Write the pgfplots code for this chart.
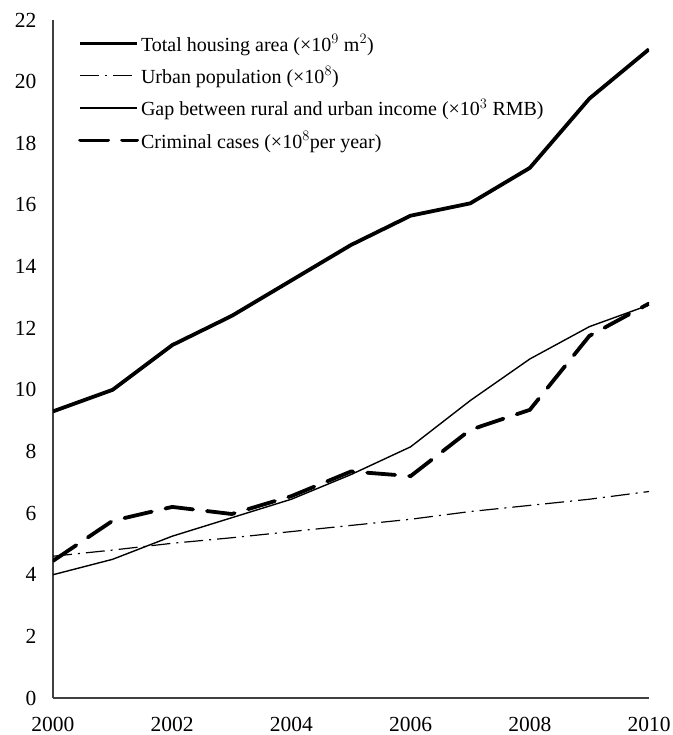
\documentclass[border=0pt]{standalone}
\usepackage{pgfplots}
\pgfplotsset{compat=1.18}
\usepackage{fontspec}
\setmainfont{Liberation Serif}
\begin{document}
\begin{tikzpicture}[x=1pt,y=1pt]
\begin{axis}[
  scale only axis,
  width=596pt, height=678pt,
  xmin=2000, xmax=2010, ymin=0, ymax=22,
  xtick={2000,2002,...,2010},
  ytick={0,2,...,22},
  xticklabel style={/pgf/number format/1000 sep={}},
  /pgf/number format/assume math mode=true,
  tick label style={font=\fontsize{21.5}{23}\selectfont},
  axis x line*=bottom, axis y line*=left,
  axis line style={line width=1.2pt, black!75},
  major tick length=0pt,
  xticklabel style={yshift=-16pt},
  yticklabel style={xshift=-13pt},
  legend style={draw=none, fill=none, at={(0.042,0.982)}, anchor=north west,
    font=\fontsize{20}{22}\selectfont, row sep=10pt, inner sep=0pt},
  legend cell align=left,
  legend image code/.code={\draw[#1] (0pt,0pt) -- (57pt,0pt);},
]
\addplot[black, line width=3.8pt] coordinates {
(2000,9.3) (2001,10.0) (2002,11.45) (2003,12.4) (2004,13.55) (2005,14.7) (2006,15.65) (2007,16.05) (2008,17.2) (2009,19.45) (2010,21.05)};
\addlegendentry{Total housing area (×10$^{9}$ m$^{2}$)}
\addplot[black, line width=1.2pt, dash pattern=on 19pt off 6pt on 2pt off 6pt] coordinates {
(2000,4.6) (2001,4.8) (2002,5.02) (2003,5.2) (2004,5.4) (2005,5.6) (2006,5.8) (2007,6.05) (2008,6.25) (2009,6.45) (2010,6.7)};
\addlegendentry{Urban population (×10$^{8}$)}
\addplot[black, line width=1.4pt] coordinates {
(2000,4.0) (2001,4.5) (2002,5.25) (2003,5.85) (2004,6.45) (2005,7.25) (2006,8.15) (2007,9.65) (2008,11.0) (2009,12.05) (2010,12.75)};
\addlegendentry{Gap between rural and urban income (×10$^{3}$ RMB)}
\addplot[black, line width=3.8pt, dash pattern=on 28pt off 14pt, line cap=round] coordinates {
(2000,4.45) (2001,5.75) (2002,6.2) (2003,5.97) (2004,6.55) (2005,7.35) (2006,7.2) (2007,8.7) (2008,9.35) (2009,11.75) (2010,12.8)};
\addlegendentry{Criminal cases (×10$^{8}$per year)}
\end{axis}
\pgfresetboundingbox
\path (current axis.south west) +(-53pt,-37pt) (current axis.north east) +(24pt,20pt);
\end{tikzpicture}
\end{document}
